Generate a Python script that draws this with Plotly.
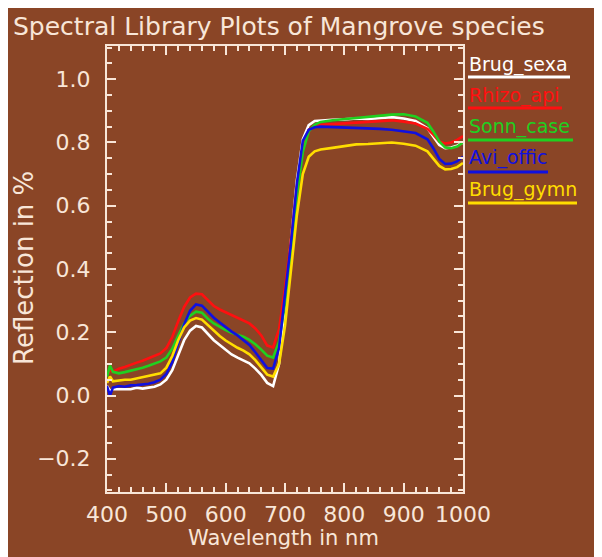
import plotly.graph_objects as go

# page is rendered with the browser's default 8px body margin
OFF = 8
W, H = 602 - OFF, 557 - OFF
# plot area in page pixels: left 107, right 463, top 46, bottom 492
ML, MR, MT, MB = 107 - OFF, 602 - 463, 46 - OFF, 557 - 492

wavelength = [400, 405, 410, 420, 430, 440, 450, 460, 470, 480, 490, 500, 510, 520, 530, 540,
              550, 560, 570, 580, 590, 600, 610, 620, 630, 640, 650, 660, 670, 680, 690, 700,
              710, 720, 730, 740, 750, 760, 780, 800, 820, 840, 860, 880, 900, 920, 940, 950,
              960, 970, 980, 990, 1000]

brug_sexa = [0.03, 0.015, 0.02, 0.02, 0.022, 0.02, 0.025, 0.022, 0.025, 0.028, 0.035, 0.05, 0.08,
             0.125, 0.175, 0.205, 0.22, 0.215, 0.195, 0.175, 0.16, 0.145, 0.13, 0.12, 0.112, 0.102,
             0.085, 0.065, 0.04, 0.03, 0.10, 0.30, 0.49, 0.68, 0.81, 0.855, 0.868, 0.87, 0.872,
             0.873, 0.876, 0.874, 0.878, 0.88, 0.876, 0.868, 0.845, 0.818, 0.792, 0.782, 0.784,
             0.79, 0.80]
rhizo_api = [0.065, 0.08, 0.075, 0.085, 0.09, 0.098, 0.104, 0.11, 0.118, 0.124, 0.133, 0.15, 0.185,
             0.235, 0.28, 0.31, 0.322, 0.32, 0.302, 0.283, 0.272, 0.263, 0.255, 0.246, 0.237, 0.228,
             0.212, 0.19, 0.158, 0.152, 0.21, 0.34, 0.49, 0.66, 0.79, 0.84, 0.852, 0.856, 0.858,
             0.86, 0.863, 0.866, 0.868, 0.87, 0.866, 0.86, 0.843, 0.825, 0.803, 0.797, 0.80,
             0.808, 0.82]
sonn_case = [0.06, 0.095, 0.075, 0.07, 0.074, 0.078, 0.083, 0.088, 0.094, 0.1, 0.108, 0.12, 0.148,
             0.19, 0.228, 0.252, 0.265, 0.262, 0.243, 0.228, 0.217, 0.207, 0.198, 0.192, 0.186,
             0.176, 0.162, 0.145, 0.126, 0.12, 0.17, 0.29, 0.46, 0.63, 0.77, 0.835, 0.856, 0.865,
             0.87, 0.874, 0.878, 0.88, 0.884, 0.888, 0.889, 0.882, 0.862, 0.835, 0.803, 0.784,
             0.782, 0.787, 0.80]
avi_offic = [0.03, 0.0, 0.025, 0.03, 0.028, 0.032, 0.033, 0.034, 0.037, 0.042, 0.05, 0.068, 0.105,
             0.165, 0.225, 0.268, 0.288, 0.284, 0.265, 0.246, 0.231, 0.216, 0.202, 0.19, 0.176,
             0.16, 0.137, 0.112, 0.087, 0.085, 0.15, 0.32, 0.48, 0.67, 0.805, 0.84, 0.848, 0.85,
             0.849, 0.848, 0.846, 0.845, 0.843, 0.84, 0.836, 0.83, 0.81, 0.782, 0.748, 0.732,
             0.733, 0.74, 0.755]
brug_gymn = [0.04, 0.06, 0.045, 0.048, 0.05, 0.05, 0.054, 0.056, 0.06, 0.064, 0.07, 0.088, 0.125,
             0.175, 0.215, 0.237, 0.245, 0.24, 0.222, 0.203, 0.188, 0.174, 0.162, 0.151, 0.142,
             0.13, 0.112, 0.09, 0.066, 0.06, 0.1, 0.22, 0.4, 0.57, 0.7, 0.755, 0.772, 0.778, 0.783,
             0.789, 0.794, 0.795, 0.798, 0.8, 0.796, 0.79, 0.772, 0.75, 0.726, 0.715, 0.716,
             0.722, 0.735]

species = ["Brug_sexa", "Rhizo_api", "Sonn_case", "Avi_offic", "Brug_gymn"]
series = [brug_sexa, rhizo_api, sonn_case, avi_offic, brug_gymn]
colors = ["#ffffff", "#ff1010", "#20d020", "#1010e0", "#ffdd00"]

x_ticks = [400, 500, 600, 700, 800, 900, 1000]
y_ticks = [-0.2, 0.0, 0.2, 0.4, 0.6, 0.8, 1.0]
y_tick_text = ["\u22120.2", "0.0", "0.2", "0.4", "0.6", "0.8", "1.0"]

BG = "#8a4526"
FG = "#f8e6d8"
FONT = "DejaVu Sans"

fig = go.Figure()
for name, ys, c in zip(species, series, colors):
    fig.add_trace(go.Scatter(x=wavelength, y=ys, mode="lines", name=name,
                             line=dict(color=c, width=2.6), showlegend=False))

pw = W - ML - MR
ph = H - MT - MB

def px2paper_x(px):
    # px given in page pixels
    return (px - OFF - ML) / pw

def py2paper_y(py):
    return (H - MB - (py - OFF)) / ph

# legend: coloured text with underline (page pixel positions)
legend_text_y = [64, 95, 127, 158, 189]
legend_line_y = [77, 108, 140, 172, 203]
legend_line_end = [570, 562, 573, 548, 577]
annotations = []
shapes = []
for name, c, ty, ly, le in zip(species, colors, legend_text_y, legend_line_y, legend_line_end):
    annotations.append(dict(text=name, xref="paper", yref="paper", x=px2paper_x(467),
                            y=py2paper_y(ty), xanchor="left", yanchor="middle",
                            showarrow=False, font=dict(family=FONT, size=19, color=c)))
    shapes.append(dict(type="line", xref="paper", yref="paper",
                       x0=px2paper_x(468), x1=px2paper_x(le),
                       y0=py2paper_y(ly), y1=py2paper_y(ly),
                       line=dict(color=c, width=3)))

# axis titles
annotations.append(dict(text="Wavelength in nm", xref="paper", yref="paper",
                        x=px2paper_x(283), y=py2paper_y(538), xanchor="center", yanchor="middle",
                        showarrow=False, font=dict(family=FONT, size=21, color=FG)))
annotations.append(dict(text="Reflection in %", xref="paper", yref="paper",
                        x=px2paper_x(24), y=py2paper_y(268), xanchor="center", yanchor="middle",
                        textangle=-90, showarrow=False, font=dict(family=FONT, size=26, color=FG)))

axis_common = dict(showgrid=False, zeroline=False, showline=True, linecolor=FG, linewidth=2,
                   mirror="ticks", ticks="inside", ticklen=9, tickwidth=2, tickcolor=FG,
                   tickfont=dict(family=FONT, size=22, color=FG))

fig.update_layout(
    width=W, height=H,
    margin=dict(l=ML, r=MR, t=MT, b=MB, pad=0),
    paper_bgcolor=BG, plot_bgcolor=BG,
    title=dict(text="Spectral Library Plots of Mangrove species", xref="container", yref="container",
               x=(13 - OFF) / W, xanchor="left", y=1 - (26 - OFF) / H, yanchor="middle",
               font=dict(family=FONT, size=25, color=FG)),
    xaxis=dict(range=[400, 1000], tickvals=x_ticks, ticktext=[str(v) for v in x_ticks],
               minor=dict(dtick=20, tick0=400, ticks="inside", ticklen=5, tickwidth=2, tickcolor=FG),
               ticklabelstandoff=2, **axis_common),
    yaxis=dict(range=[-0.305, 1.105], tickvals=y_ticks, ticktext=y_tick_text,
               minor=dict(dtick=0.05, tick0=0, ticks="inside", ticklen=5, tickwidth=2, tickcolor=FG),
               ticklabelstandoff=10, **axis_common),
    annotations=annotations,
    shapes=shapes,
)

fig.write_html("out.html")
